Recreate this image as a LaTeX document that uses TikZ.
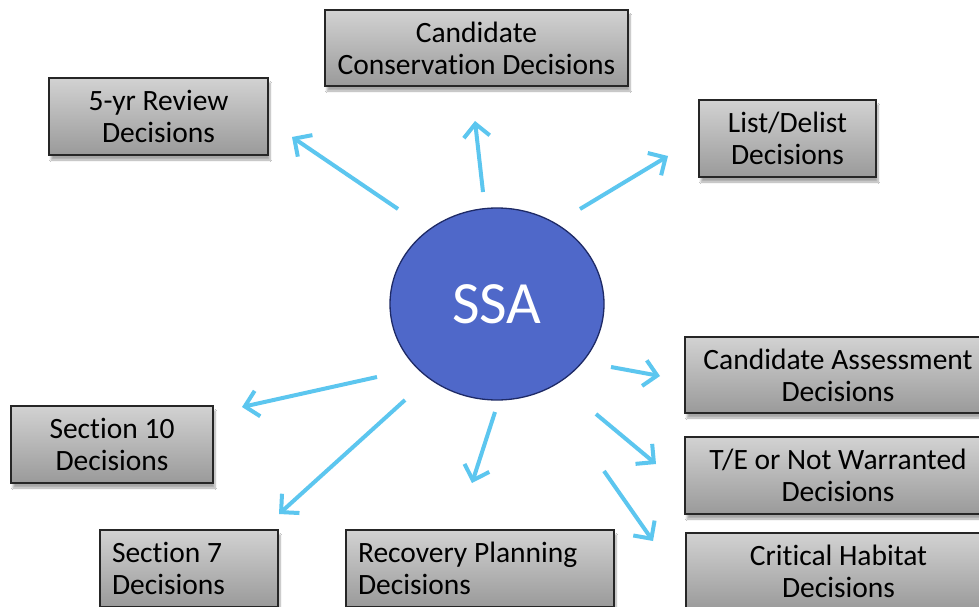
\documentclass[tikz,border=0pt]{standalone}
\usepackage{fontspec}
\setmainfont{Carlito}[Ligatures=NoCommon]
\usetikzlibrary{arrows.meta,shadows.blur,shapes.geometric}
\definecolor{arrowblue}{HTML}{5CC6EF}
\definecolor{ssafill}{HTML}{4F68C9}
\definecolor{ssaline}{HTML}{1E2A66}
\definecolor{boxtop}{HTML}{D2D2D2}
\definecolor{boxmid}{HTML}{C6C6C6}
\definecolor{boxbot}{HTML}{9A9A9A}
\tikzset{
  decbox/.style={draw=black!85, line width=1.3pt, top color=boxtop, middle color=boxmid, bottom color=boxbot,
    blur shadow={shadow xshift=2pt, shadow yshift=-5pt, shadow blur steps=8, shadow opacity=35},
    inner sep=0pt, font=\fontsize{29.5}{32}\selectfont, align=center, minimum height=77pt},
  leftbox/.style={decbox, align=flush left, inner xsep=12pt},
  flow/.style={draw=arrowblue, line width=4pt, -{Straight Barb[length=13pt, width=26pt]}},
  ssastyle/.style={ellipse, draw=ssaline, line width=1.3pt, fill=ssafill, text=white,
    minimum width=214pt, minimum height=192pt, inner sep=0pt, font=\fontsize{60}{62}\selectfont}
}
\begin{document}
\begin{tikzpicture}[x=1pt,y=-1pt]
\useasboundingbox (0,0) rectangle (979,607);
\clip (0,0) rectangle (979,607);
\fill[white] (0,0) rectangle (979,607);

\node[ssastyle] (ssa) at (497,304) {SSA};

\node[decbox, minimum width=219pt] (rev) at (158.5,116.5) {5-yr Review\\Decisions};
\node[decbox, minimum width=303pt, minimum height=76pt] (cons) at (476.5,48) {Candidate\\Conservation Decisions};
\node[decbox, minimum width=177pt] (list) at (787.5,138.5) {List/Delist\\Decisions};
\node[decbox, minimum width=306pt, minimum height=76pt] (asmt) at (838,375) {Candidate Assessment\\Decisions};
\node[decbox, minimum width=306pt] (te) at (838,475.5) {T/E or Not Warranted\\Decisions};
\node[decbox, minimum width=305pt] (crit) at (838.5,571.5) {Critical Habitat\\Decisions};
\node[decbox, minimum width=202pt] (sec10) at (112,444.5) {Section 10\\Decisions};
\node[leftbox, text width=154pt] (sec7) at (189,568.5) {Section 7\\Decisions};
\node[leftbox, text width=244pt] (rec) at (480,568.5) {Recovery Planning\\Decisions};

\coordinate (t1) at (398,209); \coordinate (h1) at (292,137);
\coordinate (t2) at (483,192); \coordinate (h2) at (475,121);
\coordinate (t3) at (580,209); \coordinate (h3) at (668,156);
\coordinate (t4) at (611,367); \coordinate (h4) at (660,376);
\coordinate (t5) at (596,414); \coordinate (h5) at (656,464);
\coordinate (t6) at (604,471); \coordinate (h6) at (653,541);
\coordinate (t7) at (377,377); \coordinate (h7) at (242,407);
\coordinate (t8) at (405,400); \coordinate (h8) at (279,514);
\coordinate (t9) at (495,412); \coordinate (h9) at (472,483);

\draw[flow] (t1) -- (h1);
\draw[flow] (t2) -- (h2);
\draw[flow] (t3) -- (h3);
\draw[flow] (t4) -- (h4);
\draw[flow] (t5) -- (h5);
\draw[flow] (t6) -- (h6);
\draw[flow] (t7) -- (h7);
\draw[flow] (t8) -- (h8);
\draw[flow] (t9) -- (h9);
\end{tikzpicture}
\end{document}
